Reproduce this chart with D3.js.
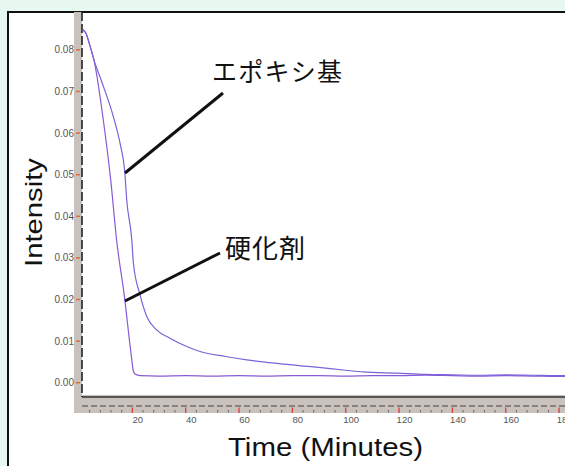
<!DOCTYPE html>
<html><head><meta charset="utf-8">
<script src="https://cdn.jsdelivr.net/npm/d3@7"></script>
<style>html,body{margin:0;padding:0;background:#e6f8f0;}svg{display:block;}</style>
</head><body>
<svg id="chart" width="565" height="466"></svg>
<script>
// ---- data ----
const hardenerTime  = [1.4,2.6,4.1,5.6,9.1,11.9,14.1,17.2,18.9,19.8,20.3,21.0,22.9,30,40,50,60,70,80,90,100,110,120,130,140,150,160,170,180,190];
const hardenerValue = [0.0848,0.0840,0.0810,0.0776,0.0632,0.0487,0.0343,0.0199,0.0102,0.0055,0.0030,0.0021,0.0017,0.0016,0.0017,0.0016,0.0017,0.0016,0.0017,0.0017,0.0016,0.0017,0.0017,0.0018,0.0017,0.0016,0.0017,0.0016,0.0015,0.0017];
const epoxyTime  = [1.4,2.6,4.1,5.6,8.5,12.9,15.4,17.2,17.9,19.8,20.4,22.9,25.4,29.1,34.1,40.4,45.4,55,62.9,75,87.9,100,106.6,119.1,130,140,150,160,170,180,190];
const epoxyValue = [0.0848,0.0840,0.0810,0.0776,0.0724,0.0639,0.0575,0.0503,0.0439,0.0343,0.0287,0.0211,0.0159,0.0127,0.0107,0.0087,0.0075,0.0063,0.0055,0.0046,0.0038,0.0030,0.0026,0.0023,0.0020,0.0019,0.0018,0.0019,0.0018,0.0017,0.0018];
const yTicks = [0,0.01,0.02,0.03,0.04,0.05,0.06,0.07,0.08];
const xTicks = [20,40,60,80,100,120,140,160,180];
const xMinorTicks = d3.range(4,200,4).filter(v => v % 20 !== 0);
const labelEpoxy = "エポキシ基";
const labelHardener = "硬化剤";
const xTitle = "Time (Minutes)";
const yTitle = "Intensity";

const svg = d3.select("#chart");
const x = d3.scaleLinear().domain([0,200]).range([79, 79+200*2.667]);
const y = d3.scaleLinear().domain([-0.00295,0.0891]).range([395,12]);

// white panel inside frame
svg.append("rect").attr("x",8).attr("y",12).attr("width",600).attr("height",500).attr("fill","#fff");
// frame
svg.append("path").attr("d","M8,480V12H600").attr("fill","none").attr("stroke","#111").attr("stroke-width",2);

// grey axis bands
svg.append("rect").attr("x",74).attr("y",12).attr("width",8).attr("height",401).attr("fill","#c9c2bc");
svg.append("rect").attr("x",74).attr("y",395).attr("width",520).attr("height",18).attr("fill","#c9c2bc");
svg.append("line").attr("x1",82).attr("x2",82).attr("y1",12).attr("y2",397)
  .attr("stroke","#222").attr("stroke-width",1.6).attr("stroke-dasharray","9,3");
svg.append("line").attr("x1",82).attr("x2",600).attr("y1",397).attr("y2",397)
  .attr("stroke","#333").attr("stroke-width",1.4);
svg.append("line").attr("x1",82).attr("x2",600).attr("y1",406).attr("y2",406)
  .attr("stroke","#444").attr("stroke-width",1).attr("stroke-dasharray","6,3");

// y axis ticks + labels
const yAxis = svg.append("g");
yAxis.selectAll("line").data(yTicks).join("line")
  .attr("x1",76).attr("x2",80).attr("y1",d=>y(d)).attr("y2",d=>y(d))
  .attr("stroke","#e06a3a").attr("stroke-width",1.5);
yAxis.selectAll("text").data(yTicks).join("text")
  .attr("x",74).attr("y",d=>y(d)+3.5).attr("text-anchor","end")
  .attr("font-family","Liberation Sans, Arial, sans-serif").attr("font-size",10)
  .attr("fill","#555")
  .text(d=>d3.format(".2f")(d));

// x axis ticks + labels
const xAxis = svg.append("g");
xAxis.selectAll("line.minor").data(xMinorTicks).join("line").attr("class","minor")
  .attr("x1",d=>x(d)).attr("x2",d=>x(d)).attr("y1",410).attr("y2",412.5)
  .attr("stroke","#666").attr("stroke-width",1);
xAxis.selectAll("line.major").data(xTicks).join("line").attr("class","major")
  .attr("x1",d=>x(d)).attr("x2",d=>x(d)).attr("y1",407.5).attr("y2",413)
  .attr("stroke","#e03a3a").attr("stroke-width",1.3);
xAxis.selectAll("text").data(xTicks).join("text")
  .attr("x",d=>x(d)+5.5).attr("y",423).attr("text-anchor","middle")
  .attr("font-family","Liberation Sans, Arial, sans-serif").attr("font-size",9.5)
  .attr("fill","#555").text(d=>d);

// curves
const clip = svg.append("clipPath").attr("id","clip").append("rect")
  .attr("x",82).attr("y",12).attr("width",600).attr("height",383);
const line = d3.line().x(d=>x(d[0])).y(d=>y(d[1])).curve(d3.curveMonotoneX);
const series = [
  {t:hardenerTime, v:hardenerValue, c:"#8a5ad6"},
  {t:epoxyTime, v:epoxyValue, c:"#7a62d8"}
];
svg.append("g").attr("clip-path","url(#clip)").selectAll("path").data(series).join("path")
  .attr("d",s=>line(s.t.map((t,i)=>[t,s.v[i]])))
  .attr("fill","none").attr("stroke",s=>s.c).attr("stroke-width",1.2);

// annotations
svg.append("line").attr("x1",223).attr("y1",93).attr("x2",125).attr("y2",173)
  .attr("stroke","#111").attr("stroke-width",3);
svg.append("line").attr("x1",220).attr("y1",253).attr("x2",125).attr("y2",301)
  .attr("stroke","#111").attr("stroke-width",3);
const jp = "Noto Sans CJK JP, sans-serif";
svg.append("text").attr("x",212).attr("y",81).attr("font-family",jp).attr("font-size",25)
  .attr("fill","#111").attr("textLength",130).attr("lengthAdjust","spacing").text(labelEpoxy);
svg.append("text").attr("x",225).attr("y",258).attr("font-family",jp).attr("font-size",26)
  .attr("fill","#111").attr("textLength",80).attr("lengthAdjust","spacing").text(labelHardener);

// axis titles
svg.append("text").attr("x",228).attr("y",456)
  .attr("font-family","Liberation Sans, Arial, sans-serif").attr("font-size",25)
  .attr("fill","#111").attr("textLength",195).attr("lengthAdjust","spacingAndGlyphs").text(xTitle);
svg.append("text").attr("transform","translate(42,267) rotate(-90)")
  .attr("font-family","Liberation Sans, Arial, sans-serif").attr("font-size",24)
  .attr("fill","#111").attr("textLength",109).attr("lengthAdjust","spacingAndGlyphs").text(yTitle);
</script>
</body></html>
